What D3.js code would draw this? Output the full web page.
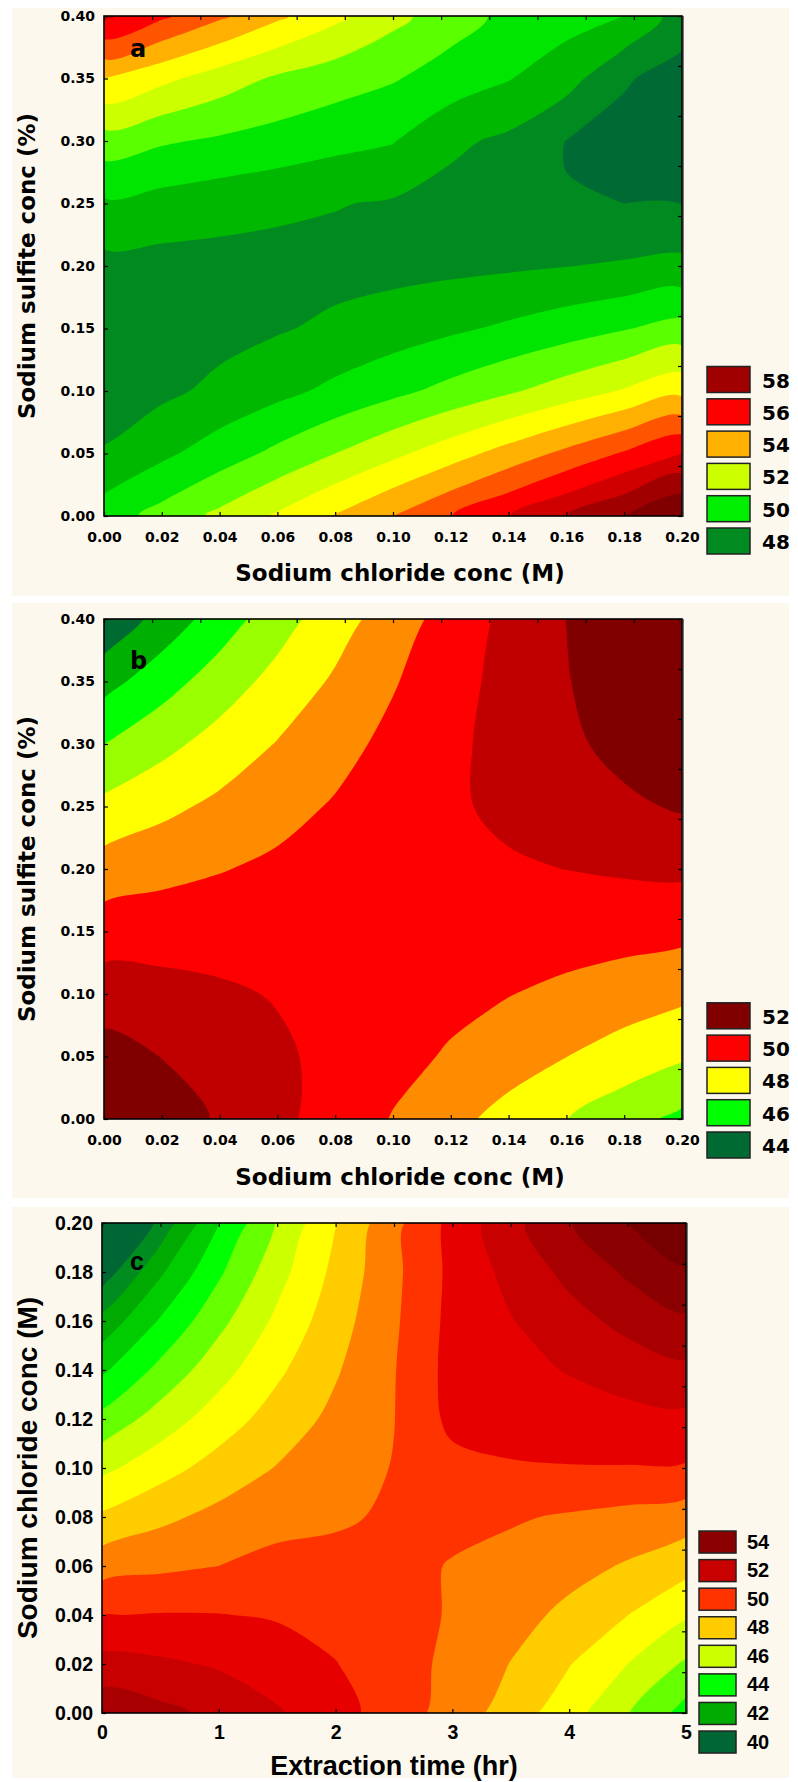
<!DOCTYPE html>
<html>
<head>
<meta charset="utf-8">
<title>Yield response surfaces</title>
<script src="https://cdnjs.cloudflare.com/ajax/libs/d3/7.8.5/d3.min.js"></script>
<style>
  body { margin: 0; background: #fff; }
  svg { display: block; }
  .ab text { font-family: "DejaVu Sans", sans-serif; font-weight: bold; fill: #000; }
  .c text { font-family: "Liberation Sans", Arial, sans-serif; font-weight: bold; fill: #000; }
</style>
</head>
<body>
<svg id="chart" width="798" height="1782"></svg>
<script>
// ---- panel a : sodium chloride (x) vs sodium sulfite (y) ----
const aX = [0, 0.02, 0.04, 0.06, 0.08, 0.10, 0.12, 0.14, 0.16, 0.18, 0.20];
const aY = [0, 0.05, 0.10, 0.15, 0.20, 0.25, 0.30, 0.35, 0.40];
// rows go from y = 0 (bottom) up to y = 0.40
const aZ = [
  [49.49, 50.35, 51.23, 52.13, 53.06, 54.00, 54.97, 55.96, 56.98, 58.01, 59.07],
  [48.10, 48.79, 49.50, 50.24, 51.00, 51.77, 52.57, 53.40, 54.25, 55.11, 56.00],
  [47.34, 47.78, 48.24, 48.72, 49.23, 49.75, 50.30, 50.87, 51.47, 52.09, 52.72],
  [47.20, 47.42, 47.66, 47.91, 48.20, 48.50, 48.83, 49.17, 49.55, 49.94, 50.36],
  [47.69, 47.65, 47.63, 47.63, 47.66, 47.70, 47.77, 47.86, 47.98, 48.11, 48.27],
  [48.85, 48.62, 48.42, 48.22, 48.05, 47.90, 47.65, 47.40, 47.02, 47.00, 46.97],
  [50.54, 50.12, 49.85, 49.60, 49.30, 49.05, 48.20, 47.80, 46.98, 46.65, 46.35],
  [53.00, 52.25, 51.52, 50.85, 50.45, 50.08, 49.55, 49.05, 48.40, 47.10, 46.60],
  [56.19, 55.17, 54.17, 53.19, 52.24, 51.30, 50.45, 49.75, 49.40, 49.00, 47.50]
];
const aLevels = [47, 48, 49, 50, 51, 52, 53, 54, 55, 56, 57, 58];
const aColors = ["#006a35", "#008a20", "#00b800", "#00e600", "#5aff00", "#ccff00", "#ffff00",
                 "#ffb000", "#ff5500", "#ff0000", "#d00000", "#a00000", "#800000"];
const aLegend = ["58", "56", "54", "52", "50", "48"];
const aLegendColors = ["#a00000", "#ff0000", "#ffb000", "#ccff00", "#00ee00", "#008a20"];

// ---- panel b : sodium chloride (x) vs sodium sulfite (y) ----
const bX = [0, 0.02, 0.04, 0.06, 0.08, 0.10, 0.12, 0.14, 0.16, 0.18, 0.20];
const bY = [0, 0.05, 0.10, 0.15, 0.20, 0.25, 0.30, 0.35, 0.40];
const bZ = [
  [52.20, 51.54, 50.89, 50.23, 49.58, 48.94, 48.29, 47.65, 47.02, 46.38, 45.75],
  [51.40, 50.98, 50.58, 50.16, 49.74, 49.32, 48.89, 48.46, 48.01, 47.57, 47.13],
  [50.50, 50.33, 50.14, 49.94, 49.73, 49.51, 49.28, 49.03, 48.77, 48.50, 48.22],
  [49.51, 49.57, 49.60, 49.61, 49.63, 49.60, 49.57, 49.51, 49.45, 49.36, 49.26],
  [48.43, 48.71, 48.95, 49.19, 49.40, 49.59, 49.75, 49.89, 50.01, 50.12, 50.19],
  [47.26, 47.75, 48.22, 48.67, 49.09, 49.49, 49.87, 50.20, 50.53, 50.83, 51.10],
  [45.99, 46.71, 47.39, 48.05, 48.66, 49.26, 49.80, 50.33, 50.82, 51.28, 51.70],
  [44.63, 45.58, 46.48, 47.33, 48.14, 48.92, 49.64, 50.32, 50.95, 51.55, 52.10],
  [43.18, 44.36, 45.48, 46.56, 47.56, 48.50, 49.41, 50.24, 51.01, 51.73, 52.40]
];
const bLevels = [44, 45, 46, 47, 48, 49, 50, 51];
const bColors = ["#006a33", "#00b000", "#00ff00", "#99ff00", "#ffff00", "#ff8c00", "#ff0000", "#c00000", "#800000"];
const bLegend = ["52", "50", "48", "46", "44"];
const bLegendColors = ["#800000", "#ff0000", "#ffff00", "#00ff00", "#006a33"];

// ---- panel c : extraction time (x) vs sodium chloride (y) ----
const cX = [0, 0.5, 1, 1.5, 2, 2.5, 3, 3.5, 4, 4.5, 5];
const cY = [0, 0.02, 0.04, 0.06, 0.08, 0.10, 0.12, 0.14, 0.16, 0.18, 0.20];
const cZ = [
  [52.70, 52.27, 51.74, 51.10, 50.36, 49.53, 48.58, 47.54, 46.40, 45.05, 43.60],
  [51.35, 51.17, 50.89, 50.51, 50.03, 49.45, 48.76, 47.97, 47.05, 46.00, 44.85],
  [49.97, 50.05, 50.03, 49.91, 49.68, 49.35, 48.92, 48.39, 47.75, 47.01, 46.12],
  [48.58, 48.80, 49.00, 49.29, 49.33, 49.25, 48.95, 48.68, 48.35, 47.90, 47.33],
  [47.17, 47.78, 48.28, 48.67, 48.85, 49.15, 49.22, 49.10, 48.90, 48.70, 48.47],
  [45.74, 46.62, 47.39, 48.05, 48.60, 49.04, 49.70, 49.90, 49.95, 49.95, 49.90],
  [44.29, 45.45, 46.50, 47.43, 48.25, 48.98, 50.25, 50.45, 50.60, 50.70, 50.75],
  [42.82, 44.28, 45.61, 46.82, 47.90, 48.95, 50.35, 50.75, 51.05, 51.44, 51.77],
  [41.33, 43.10, 44.72, 46.21, 47.57, 48.85, 50.30, 50.95, 51.62, 52.30, 52.83],
  [39.40, 41.85, 43.84, 45.63, 47.26, 48.77, 50.25, 51.30, 52.27, 53.15, 53.88],
  [37.50, 40.30, 42.97, 45.06, 46.97, 48.72, 50.29, 51.70, 52.93, 54.00, 54.90]
];
const cLevels = [40, 41, 42, 43, 44, 45, 46, 47, 48, 49, 50, 51, 52, 53, 54];
const cColors = ["#006633", "#008c1e", "#00aa00", "#00cc00", "#00ff00", "#66ff00", "#ccff00", "#ffff00",
                 "#ffcc00", "#ff8000", "#ff3300", "#e60000", "#c80000", "#a80000", "#8b0000", "#760000"];
const cLegend = ["54", "52", "50", "48", "46", "44", "42", "40"];
const cLegendColors = ["#8b0000", "#c80000", "#ff3300", "#ffcc00", "#ccff00", "#00ff00", "#00aa00", "#006633"];

const abXTicks = [0, 0.02, 0.04, 0.06, 0.08, 0.10, 0.12, 0.14, 0.16, 0.18, 0.20];
const abYTicks = [0, 0.05, 0.10, 0.15, 0.20, 0.25, 0.30, 0.35, 0.40];
const cXTicks = [0, 1, 2, 3, 4, 5];
const cYTicks = [0, 0.02, 0.04, 0.06, 0.08, 0.10, 0.12, 0.14, 0.16, 0.18, 0.20];

const svg = d3.select("#chart");
const ringLine = d3.line().curve(d3.curveCatmullRomClosed.alpha(0.5));

function drawPanel(p) {
  const g = svg.append("g").attr("class", p.cls);

  g.append("rect")
    .attr("x", 12).attr("y", p.bgTop)
    .attr("width", 777).attr("height", p.bgBottom - p.bgTop)
    .attr("fill", "#fdf8ee");

  const x = d3.scaleLinear().domain(p.xDomain).range([p.x0, p.x1]);
  const y = d3.scaleLinear().domain(p.yDomain).range([p.y1, p.y0]);

  // contour grid -> data units (sample i sits at i + 0.5 in d3.contours space)
  const nx = p.xGrid.length, ny = p.yGrid.length;
  const gx = d3.scaleLinear().domain([0.5, nx - 0.5]).range([p.xGrid[0], p.xGrid[nx - 1]]);
  const gy = d3.scaleLinear().domain([0.5, ny - 0.5]).range([p.yGrid[0], p.yGrid[ny - 1]]);
  const bands = d3.contours().size([nx, ny]).thresholds(p.levels)(p.z.flat());

  // smooth each ring so the coarse grid does not show as corners
  const bandPath = mp => mp.coordinates.map(poly => poly.map(ring =>
    ringLine(ring.slice(0, -1).map(([px, py]) => [x(gx(px)), y(gy(py))]))
  ).join("")).join("");

  const clipId = "clip-" + p.id;
  g.append("clipPath").attr("id", clipId)
    .append("rect").attr("x", p.x0).attr("y", p.y0)
    .attr("width", p.x1 - p.x0).attr("height", p.y1 - p.y0);

  const plot = g.append("g").attr("clip-path", `url(#${clipId})`);
  plot.append("rect")
    .attr("x", p.x0).attr("y", p.y0)
    .attr("width", p.x1 - p.x0).attr("height", p.y1 - p.y0)
    .attr("fill", p.colors[0]);
  plot.selectAll("path")
    .data(bands)
    .join("path")
    .attr("d", bandPath)
    .attr("fill-rule", "evenodd")
    .attr("fill", d => p.colors[p.levels.indexOf(d.value) + 1]);

  // axes with inside ticks
  const fmt = d3.format(p.fmt);
  const bottom = g.append("g")
    .attr("transform", `translate(0,${p.y1})`)
    .call(d3.axisBottom(x).tickValues(p.xTicks).tickFormat(p.xFmt).tickSize(-4).tickPadding(p.xPad));
  const left = g.append("g")
    .attr("transform", `translate(${p.x0},0)`)
    .call(d3.axisLeft(y).tickValues(p.yTicks).tickFormat(fmt).tickSize(-4).tickPadding(p.yPad));
  const topScale = d3.scaleLinear().domain([0, p.topN]).range([p.x0, p.x1]);
  const rightScale = d3.scaleLinear().domain([0, p.rightN]).range([p.y1, p.y0]);
  const top = g.append("g")
    .attr("transform", `translate(0,${p.y0})`)
    .call(d3.axisTop(topScale).ticks(p.topN).tickFormat("").tickSize(-4));
  const right = g.append("g")
    .attr("transform", `translate(${p.x1},0)`)
    .call(d3.axisRight(rightScale).ticks(p.rightN).tickFormat("").tickSize(-4));

  [bottom, left, top, right].forEach(ax => {
    ax.attr("font-family", null).attr("font-size", p.tickFont);
    ax.select(".domain").remove();
    ax.selectAll(".tick line").attr("stroke", "#000").attr("stroke-width", 1.2);
  });

  // frame
  g.append("rect")
    .attr("x", p.x0).attr("y", p.y0)
    .attr("width", p.x1 - p.x0).attr("height", p.y1 - p.y0)
    .attr("fill", "none").attr("stroke", "#000").attr("stroke-width", 1.6);
  g.append("line")
    .attr("x1", p.x1 + 0.8).attr("x2", p.x1 + 0.8).attr("y1", p.y0).attr("y2", p.y1 + 1)
    .attr("stroke", "#222").attr("stroke-width", 1.6);

  // panel letter
  g.append("text")
    .attr("x", 130).attr("y", p.letterY)
    .attr("font-size", p.letterFont)
    .text(p.letter);

  // axis titles
  g.append("text")
    .attr("x", p.xTitleX).attr("y", p.xTitleY)
    .attr("text-anchor", "middle")
    .attr("font-size", p.xTitleFont)
    .text(p.xTitle);
  g.append("text")
    .attr("transform", `translate(${p.yTitleX},${(p.y0 + p.y1) / 2}) rotate(-90)`)
    .attr("text-anchor", "middle")
    .attr("font-size", p.yTitleFont)
    .text(p.yTitle);

  // legend, bottom aligned
  const n = p.legend.length;
  const leg = g.selectAll("g.leg")
    .data(p.legend.map((lab, i) => ({ lab, col: p.legendColors[i], i })))
    .join("g")
    .attr("class", "leg")
    .attr("transform", d => `translate(${p.legX},${p.legBottom - (n - d.i) * p.legStep})`);
  leg.append("rect")
    .attr("width", p.legW).attr("height", p.legH)
    .attr("fill", d => d.col)
    .attr("stroke", "#222").attr("stroke-width", 1.5);
  leg.append("text")
    .attr("x", p.legW + p.legGap).attr("y", p.legBase)
    .attr("font-size", p.legFont)
    .text(d => d.lab);
}

const abFmt = d3.format(".2f");

drawPanel({
  id: "a", cls: "ab", bgTop: 8, bgBottom: 596,
  x0: 104, x1: 682, y0: 16, y1: 516,
  xDomain: [0, 0.20], yDomain: [0, 0.40],
  xGrid: aX, yGrid: aY, z: aZ, levels: aLevels, colors: aColors,
  xTicks: abXTicks, yTicks: abYTicks, xFmt: abFmt, fmt: ".2f",
  xPad: 16, yPad: 9, tickFont: 14, topN: 12, rightN: 10,
  letter: "a", letterY: 57, letterFont: 24,
  xTitle: "Sodium chloride conc (M)", xTitleX: 400, xTitleY: 581, xTitleFont: 23,
  yTitle: "Sodium sulfite conc (%)", yTitleX: 35, yTitleFont: 23,
  legend: aLegend, legendColors: aLegendColors,
  legX: 707, legBottom: 560.3, legStep: 32.3, legW: 43, legH: 26, legGap: 12, legBase: 21, legFont: 20
});

drawPanel({
  id: "b", cls: "ab", bgTop: 603, bgBottom: 1198,
  x0: 104, x1: 682, y0: 619, y1: 1119,
  xDomain: [0, 0.20], yDomain: [0, 0.40],
  xGrid: bX, yGrid: bY, z: bZ, levels: bLevels, colors: bColors,
  xTicks: abXTicks, yTicks: abYTicks, xFmt: abFmt, fmt: ".2f",
  xPad: 16, yPad: 9, tickFont: 14, topN: 12, rightN: 10,
  letter: "b", letterY: 669, letterFont: 24,
  xTitle: "Sodium chloride conc (M)", xTitleX: 400, xTitleY: 1185, xTitleFont: 23,
  yTitle: "Sodium sulfite conc (%)", yTitleX: 35, yTitleFont: 23,
  legend: bLegend, legendColors: bLegendColors,
  legX: 707, legBottom: 1164.3, legStep: 32.3, legW: 43, legH: 26, legGap: 12, legBase: 21, legFont: 20
});

drawPanel({
  id: "c", cls: "c", bgTop: 1207, bgBottom: 1778,
  x0: 102, x1: 686, y0: 1223, y1: 1713,
  xDomain: [0, 5], yDomain: [0, 0.20],
  xGrid: cX, yGrid: cY, z: cZ, levels: cLevels, colors: cColors,
  xTicks: cXTicks, yTicks: cYTicks, xFmt: d3.format("d"), fmt: ".2f",
  xPad: 12, yPad: 9, tickFont: 19.5, topN: 10, rightN: 12,
  letter: "c", letterY: 1270, letterFont: 25,
  xTitle: "Extraction time (hr)", xTitleX: 394, xTitleY: 1775, xTitleFont: 27,
  yTitle: "Sodium chloride conc (M)", yTitleX: 37, yTitleFont: 28,
  legend: cLegend, legendColors: cLegendColors,
  legX: 699, legBottom: 1759.6, legStep: 28.57, legW: 37, legH: 22, legGap: 11, legBase: 17.5, legFont: 20
});
</script>
</body>
</html>
